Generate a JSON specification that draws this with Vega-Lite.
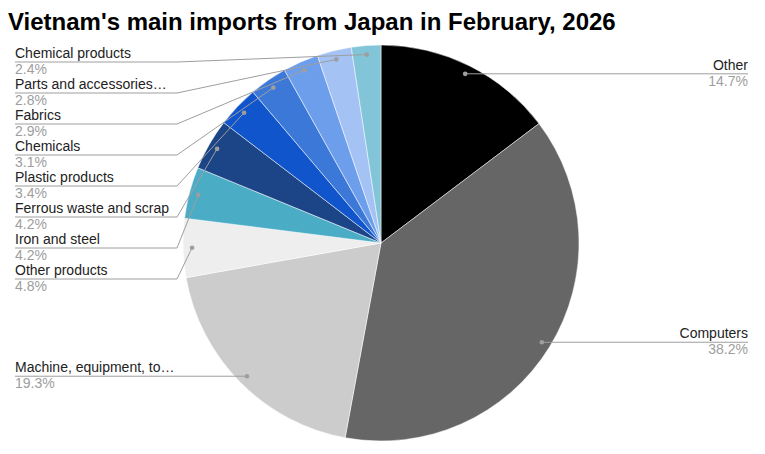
{
  "$schema": "https://vega.github.io/schema/vega-lite/v6.json",
  "width": 762,
  "height": 422,
  "autosize": {"type": "none"},
  "padding": {"top": 32, "left": 0, "right": 3, "bottom": 0},
  "background": "#ffffff",
  "title": {
    "text": "Vietnam's main imports from Japan in February, 2026",
    "anchor": "start",
    "font": "Liberation Sans",
    "fontSize": 24,
    "fontWeight": "bold",
    "color": "#000000",
    "baseline": "alphabetic",
    "offset": -22,
    "dx": 8
  },
  "config": {
    "view": {"stroke": null},
    "font": "Liberation Sans"
  },
  "data": {
    "values": [
      {"category": "Other", "share": 14.7},
      {"category": "Computers", "share": 38.2},
      {"category": "Machine, equipment, to…", "share": 19.3},
      {"category": "Other products", "share": 4.8},
      {"category": "Iron and steel", "share": 4.2},
      {"category": "Ferrous waste and scrap", "share": 4.2},
      {"category": "Plastic products", "share": 3.4},
      {"category": "Chemicals", "share": 3.1},
      {"category": "Fabrics", "share": 2.9},
      {"category": "Parts and accessories…", "share": 2.8},
      {"category": "Chemical products", "share": 2.4}
    ]
  },
  "transform": [
    {"window": [{"op": "row_number", "as": "idx"}]},
    {"window": [{"op": "sum", "field": "share", "as": "cum"}], "sort": [{"field": "idx"}], "frame": [null, 0]},
    {"calculate": "2 * PI * (datum.cum - datum.share / 2) / 100", "as": "mid"},
    {"calculate": "datum.mid > PI ? 'left' : 'right'", "as": "side"},
    {"calculate": "189 * sin(datum.mid)", "as": "dotX"},
    {"calculate": "-189 * cos(datum.mid)", "as": "dotY"},
    {"window": [{"op": "row_number", "as": "k"}], "groupby": ["side"], "sort": [{"field": "mid", "order": "descending"}]},
    {"calculate": "datum.side === 'left' ? max(datum.dotY, -181 + 31 * (datum.k - 1)) : datum.dotY", "as": "lineY"},
    {"calculate": "datum.side === 'left' ? -366 : 367", "as": "startX"},
    {"calculate": "datum.side === 'left' ? -204 : 204", "as": "bendX"},
    {"calculate": "format(datum.share, '.1f') + '%'", "as": "pct"}
  ],
  "layer": [
    {
      "mark": {"type": "arc", "outerRadius": 198, "stroke": "#ffffff", "strokeWidth": 0.5},
      "encoding": {
        "theta": {"field": "share", "type": "quantitative", "stack": true},
        "order": {"field": "idx", "type": "quantitative"},
        "color": {
          "field": "category",
          "type": "nominal",
          "legend": null,
          "scale": {
            "domain": ["Other", "Computers", "Machine, equipment, to…", "Other products", "Iron and steel", "Ferrous waste and scrap", "Plastic products", "Chemicals", "Fabrics", "Parts and accessories…", "Chemical products"],
            "range": ["#000000", "#666666", "#cccccc", "#eeeeee", "#4bacc6", "#1c4587", "#1155cc", "#3c78d8", "#6d9eeb", "#a4c2f4", "#82c5d8"]
          }
        }
      }
    },
    {
      "mark": {"type": "rule", "color": "#9e9e9e", "strokeWidth": 1},
      "encoding": {
        "x": {"field": "startX", "type": "quantitative", "scale": {"domain": [-381, 381], "nice": false, "zero": false}, "axis": null},
        "x2": {"field": "bendX"},
        "y": {"field": "lineY", "type": "quantitative", "scale": {"domain": [-211, 211], "nice": false, "zero": false, "reverse": true}, "axis": null},
        "y2": {"field": "lineY"}
      }
    },
    {
      "mark": {"type": "rule", "color": "#9e9e9e", "strokeWidth": 1},
      "encoding": {
        "x": {"field": "bendX", "type": "quantitative"},
        "x2": {"field": "dotX"},
        "y": {"field": "lineY", "type": "quantitative"},
        "y2": {"field": "dotY"}
      }
    },
    {
      "mark": {"type": "circle", "size": 22, "color": "#9e9e9e", "opacity": 1},
      "encoding": {
        "x": {"field": "dotX", "type": "quantitative"},
        "y": {"field": "dotY", "type": "quantitative"}
      }
    },
    {
      "transform": [{"filter": "datum.side === 'left'"}],
      "mark": {"type": "text", "align": "left", "baseline": "alphabetic", "dy": -4, "fontSize": 14, "color": "#222222"},
      "encoding": {
        "x": {"field": "startX", "type": "quantitative"},
        "y": {"field": "lineY", "type": "quantitative"},
        "text": {"field": "category"}
      }
    },
    {
      "transform": [{"filter": "datum.side === 'left'"}],
      "mark": {"type": "text", "align": "left", "baseline": "alphabetic", "dy": 12, "fontSize": 14, "color": "#9e9e9e"},
      "encoding": {
        "x": {"field": "startX", "type": "quantitative"},
        "y": {"field": "lineY", "type": "quantitative"},
        "text": {"field": "pct"}
      }
    },
    {
      "transform": [{"filter": "datum.side === 'right'"}],
      "mark": {"type": "text", "align": "right", "baseline": "alphabetic", "dy": -4, "fontSize": 14, "color": "#222222"},
      "encoding": {
        "x": {"field": "startX", "type": "quantitative"},
        "y": {"field": "lineY", "type": "quantitative"},
        "text": {"field": "category"}
      }
    },
    {
      "transform": [{"filter": "datum.side === 'right'"}],
      "mark": {"type": "text", "align": "right", "baseline": "alphabetic", "dy": 12, "fontSize": 14, "color": "#9e9e9e"},
      "encoding": {
        "x": {"field": "startX", "type": "quantitative"},
        "y": {"field": "lineY", "type": "quantitative"},
        "text": {"field": "pct"}
      }
    }
  ]
}
